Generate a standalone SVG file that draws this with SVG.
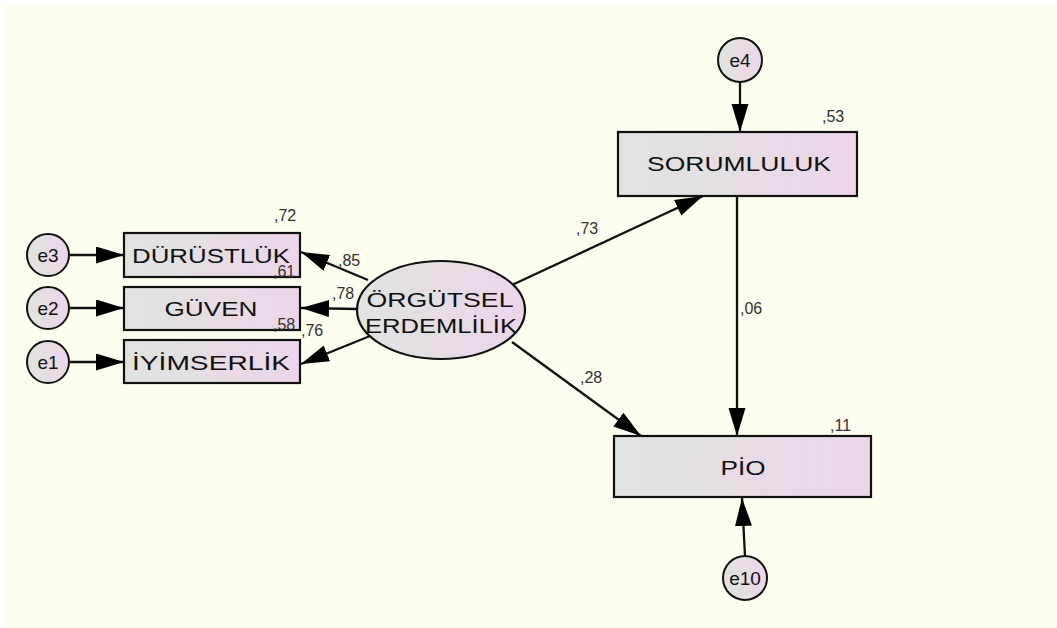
<svg xmlns="http://www.w3.org/2000/svg" width="1057" height="628" viewBox="0 0 1057 628">
  <defs>
    <linearGradient id="fillGrad" x1="0" y1="0" x2="1" y2="0">
      <stop offset="0" stop-color="#dfe4df"/>
      <stop offset="1" stop-color="#edd5ea"/>
    </linearGradient>
    <marker id="arrow" markerUnits="userSpaceOnUse" markerWidth="30" markerHeight="18" refX="28" refY="8.5" orient="auto">
      <path d="M0,0 L28,8.5 L0,17 z" fill="#000"/>
    </marker>
  </defs>
  <style>
    .box { fill: url(#fillGrad); stroke: #111; stroke-width: 2.2; }
    .err { fill: url(#fillGrad); stroke: #111; stroke-width: 2; }
    .lbl { font-family: "Liberation Sans", Arial, sans-serif; font-size: 21px; fill: #111; text-anchor: middle; }
    .elbl { font-family: "Liberation Sans", Arial, sans-serif; font-size: 19px; fill: #111; text-anchor: middle; }
    .num { font-family: "Liberation Sans", Arial, sans-serif; font-size: 16px; fill: #333; }
    .conn line { stroke: #111; stroke-width: 2.3; marker-end: url(#arrow); }
  </style>

  <!-- canvas -->
  <rect x="0" y="0" width="1057" height="628" fill="#ffffff"/>
  <rect x="5" y="5" width="1052" height="623" fill="#fdfdf0"/>

  <!-- connectors -->
  <g id="connectors" class="conn">
    <line x1="70" y1="255" x2="124" y2="255"/>
    <line x1="70" y1="308" x2="124" y2="308"/>
    <line x1="70" y1="362" x2="124" y2="362"/>
    <line x1="368" y1="280" x2="301" y2="252"/>
    <line x1="358" y1="309" x2="301" y2="308"/>
    <line x1="370" y1="336" x2="301" y2="364"/>
    <line x1="512" y1="285" x2="703" y2="196"/>
    <line x1="512" y1="342" x2="641" y2="436"/>
    <line x1="737" y1="196" x2="737" y2="436"/>
    <line x1="740" y1="82" x2="740" y2="132"/>
    <line x1="745" y1="556" x2="742" y2="498"/>
  </g>

  <!-- error terms -->
  <g id="e3"><circle class="err" cx="48" cy="255" r="21"/><text class="elbl" x="48" y="262">e3</text></g>
  <g id="e2"><circle class="err" cx="48" cy="308" r="21"/><text class="elbl" x="48" y="315">e2</text></g>
  <g id="e1"><circle class="err" cx="48" cy="362" r="21"/><text class="elbl" x="48" y="369">e1</text></g>
  <g id="e4"><circle class="err" cx="740" cy="60" r="22"/><text class="elbl" x="740" y="67">e4</text></g>
  <g id="e10"><circle class="err" cx="745" cy="578" r="22"/><text class="elbl" x="745" y="585">e10</text></g>

  <!-- observed indicators -->
  <g id="durustluk">
    <rect class="box" x="124" y="233" width="176" height="44"/>
    <text class="lbl" x="211" y="263" textLength="158" lengthAdjust="spacingAndGlyphs">DÜRÜSTLÜK</text>
  </g>
  <g id="guven">
    <rect class="box" x="124" y="287" width="176" height="43"/>
    <text class="lbl" x="211" y="316" textLength="93" lengthAdjust="spacingAndGlyphs">GÜVEN</text>
  </g>
  <g id="iyimserlik">
    <rect class="box" x="124" y="340" width="176" height="43"/>
    <text class="lbl" x="211" y="370" textLength="158" lengthAdjust="spacingAndGlyphs">İYİMSERLİK</text>
  </g>

  <!-- latent factor -->
  <g id="orgutsel-erdemlilik">
    <ellipse class="box" cx="441" cy="310" rx="84" ry="49"/>
    <text class="lbl" x="440" y="307" textLength="147" lengthAdjust="spacingAndGlyphs">ÖRGÜTSEL</text>
    <text class="lbl" x="441" y="333" textLength="152" lengthAdjust="spacingAndGlyphs">ERDEMLİLİK</text>
  </g>

  <!-- outcomes -->
  <g id="sorumluluk">
    <rect class="box" x="618" y="132" width="239" height="64"/>
    <text class="lbl" x="739" y="171" textLength="184" lengthAdjust="spacingAndGlyphs">SORUMLULUK</text>
  </g>
  <g id="pio">
    <rect class="box" x="614" y="436" width="257" height="61"/>
    <text class="lbl" x="743" y="475" textLength="45" lengthAdjust="spacingAndGlyphs">PİO</text>
  </g>

  <!-- estimates -->
  <g id="estimates">
    <text class="num" x="274" y="221">,72</text>
    <text class="num" x="338" y="266">,85</text>
    <text class="num" x="273" y="277">,61</text>
    <text class="num" x="332" y="299">,78</text>
    <text class="num" x="273" y="330">,58</text>
    <text class="num" x="301" y="336">,76</text>
    <text class="num" x="576" y="234">,73</text>
    <text class="num" x="740" y="314">,06</text>
    <text class="num" x="580" y="383">,28</text>
    <text class="num" x="822" y="122">,53</text>
    <text class="num" x="830" y="431">,11</text>
  </g>
</svg>
